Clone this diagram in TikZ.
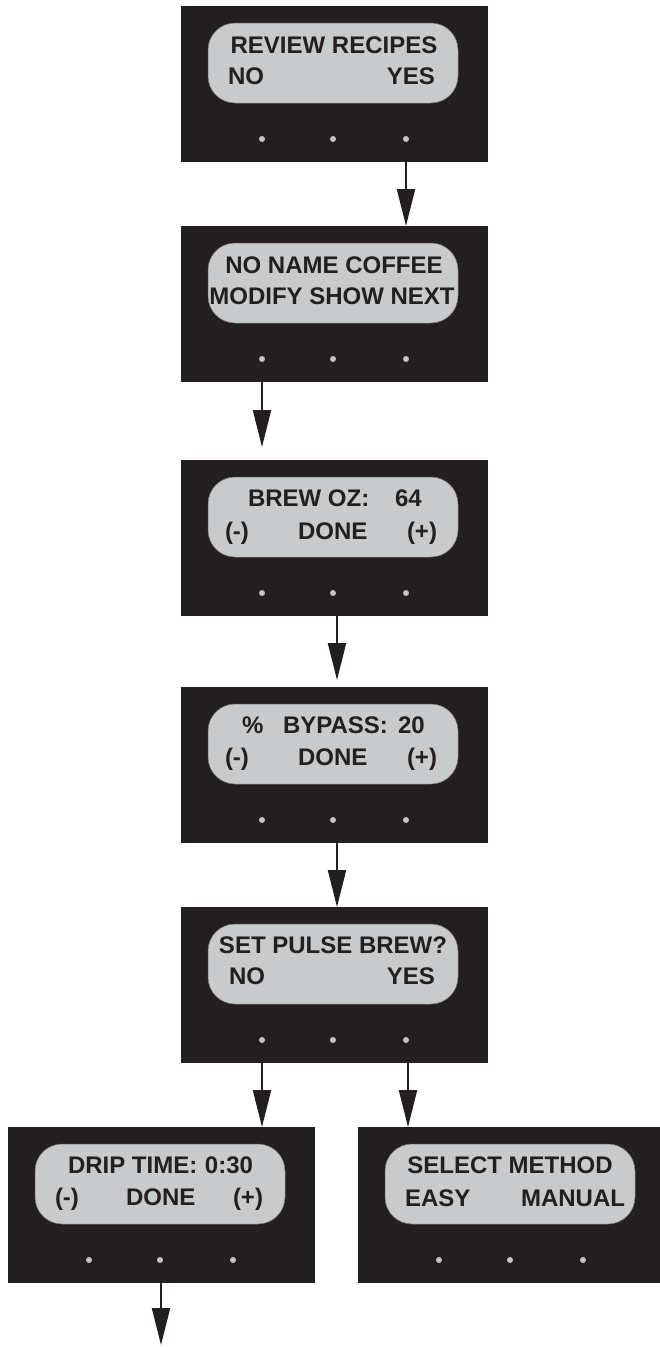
\documentclass[tikz,border=0pt]{standalone}
\usepackage{fontspec}
\setmainfont{Liberation Sans}
\usetikzlibrary{arrows.meta,calc}
\definecolor{panelblack}{HTML}{231F20}
\definecolor{lcdgray}{HTML}{C9CACC}
\definecolor{dotgray}{HTML}{C4C4C4}
\newcommand\drawpanel[3]{%
  \node[panelbox] (#1) at (#2,#3) {};
  \node[lcd] (#1lcd) at ($(#1.north west)+(152,57)$) {};
  \node[btn] (#1d1) at ($(#1.north west)+(81,133)$) {};
  \node[btn] (#1d2) at ($(#1.north west)+(152,133)$) {};
  \node[btn] (#1d3) at ($(#1.north west)+(225,133)$) {};
}
\begin{document}
\begin{tikzpicture}[x=1pt,y=-1pt,
  panelbox/.style={rectangle, fill=panelblack, draw=none, anchor=north west,
    minimum width=307pt, minimum height=156pt, inner sep=0pt, outer sep=0pt},
  lcd/.style={rectangle, rounded corners=27pt, fill=lcdgray, draw=black!55, line width=0.5pt,
    minimum width=250pt, minimum height=80pt, inner sep=0pt},
  btn/.style={circle, fill=dotgray, draw=none, minimum size=6pt, inner sep=0pt},
  lbl/.style={text=panelblack, inner sep=0pt, outer sep=0pt,
    font=\fontsize{24}{28}\selectfont\bfseries},
  arr/.style={draw=panelblack, line width=2pt, -{Triangle[length=37pt,width=18pt]}}]
\useasboundingbox (0,0) rectangle (660,1347);

\drawpanel{b1}{181}{6}
\drawpanel{b2}{181}{226}
\drawpanel{b3}{181}{460}
\drawpanel{b4}{181}{687}
\drawpanel{b5}{181}{907}
\drawpanel{b6}{8}{1127}
\drawpanel{b7}{358}{1127}

% panel 1
\node[lbl, anchor=base] (t1a) at (334,53) {REVIEW RECIPES};
\node[lbl, anchor=base west] (t1b) at (228,84) {NO};
\node[lbl, anchor=base east] (t1c) at (435,84) {YES};
% panel 2
\node[lbl, anchor=base] (t2a) at (334,273) {NO NAME COFFEE};
\node[lbl, anchor=base] (t2b) at (332,304) {MODIFY SHOW NEXT};
% panel 3
\node[lbl, anchor=base west] (t3a) at (248,506) {BREW OZ:};
\node[lbl, anchor=base west] (t3b) at (395,506) {64};
\node[lbl, anchor=base west] (t3c) at (225,539) {(-)};
\node[lbl, anchor=base west] (t3d) at (298,539) {DONE};
\node[lbl, anchor=base east] (t3e) at (437,539) {(+)};
% panel 4
\node[lbl, anchor=base west] (t4a) at (242,733) {\%};
\node[lbl, anchor=base west] (t4b) at (283,733) {BYPASS:};
\node[lbl, anchor=base west] (t4c) at (398,733) {20};
\node[lbl, anchor=base west] (t4d) at (225,765) {(-)};
\node[lbl, anchor=base west] (t4e) at (298,765) {DONE};
\node[lbl, anchor=base east] (t4f) at (437,765) {(+)};
% panel 5
\node[lbl, anchor=base] (t5a) at (333,953) {SET PULSE BREW?};
\node[lbl, anchor=base west] (t5b) at (229,984) {NO};
\node[lbl, anchor=base east] (t5c) at (435,984) {YES};
% panel 6
\node[lbl, anchor=base west] (t6a) at (68,1173) {DRIP TIME:};
\node[lbl, anchor=base east] (t6b) at (253,1173) {0:30};
\node[lbl, anchor=base west] (t6c) at (55,1205) {(-)};
\node[lbl, anchor=base west] (t6d) at (126,1205) {DONE};
\node[lbl, anchor=base east] (t6e) at (263,1205) {(+)};
% panel 7
\node[lbl, anchor=base] (t7a) at (510,1173) {SELECT METHOD};
\node[lbl, anchor=base west] (t7b) at (405,1206) {EASY};
\node[lbl, anchor=base east] (t7c) at (625,1206) {MANUAL};

% connectors
\coordinate (end7) at (161,1345);
\draw[arr] (b1d3 |- b1.south) -- (b1d3 |- b2.north);
\draw[arr, shorten >=13pt] (b2d1 |- b2.south) -- (b2d1 |- b3.north);
\draw[arr, shorten >=7pt] ($(b3d2 |- b3.south)+(4,0)$) -- ($(b3d2 |- b4.north)+(4,0)$);
\draw[arr] ($(b4d2 |- b4.south)+(4,0)$) -- ($(b4d2 |- b5.north)+(4,0)$);
\draw[arr] (b5d1 |- b5.south) -- (b5d1 |- b6.north);
\draw[arr] ($(b5d3 |- b5.south)+(2,0)$) -- ($(b5d3 |- b7.north)+(2,0)$);
\draw[arr] (b6.south -| end7) -- (end7);
\end{tikzpicture}
\end{document}
